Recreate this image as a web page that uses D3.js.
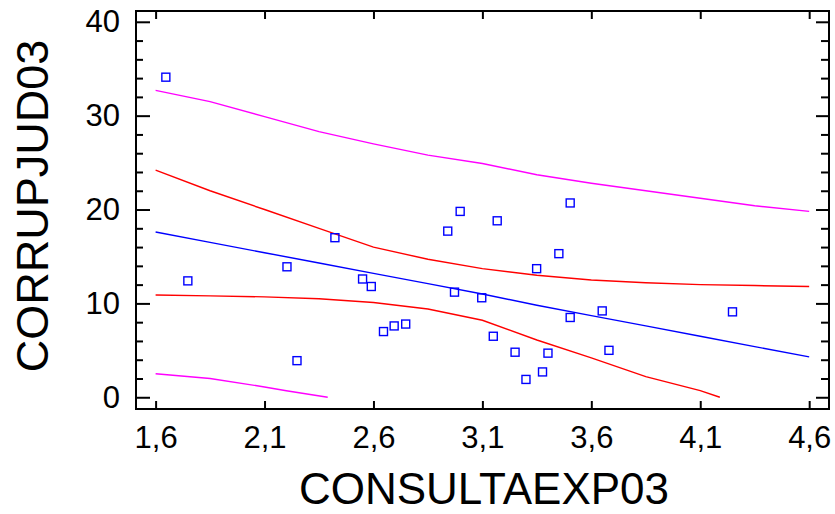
<!DOCTYPE html>
<html>
<head>
<meta charset="utf-8">
<script src="https://cdn.jsdelivr.net/npm/d3@7"></script>
<style>
	body { margin: 0; background: #fff; }
	text { font-family: "Liberation Sans", Arial, sans-serif; fill: #000; }
</style>
</head>
<body>
<script>
// points
const consulta = [1.647, 1.748, 2.203, 2.249, 2.423, 2.550, 2.590, 2.646, 2.695, 2.748, 2.941, 2.972, 2.998, 3.097, 3.150, 3.168, 3.250, 3.300, 3.349, 3.376, 3.401, 3.451, 3.503, 3.503, 3.650, 3.681, 4.248];
const corrup = [34.1, 12.4, 13.9, 3.9, 17.0, 12.6, 11.8, 7.0, 7.6, 7.8, 17.7, 11.2, 19.8, 10.6, 6.5, 18.8, 4.8, 1.9, 13.7, 2.7, 4.7, 15.3, 20.7, 8.5, 9.2, 5.0, 9.1];

// fitted line and limits, sampled along x
const xGrid = [1.6, 1.85, 2.1, 2.35, 2.6, 2.85, 3.1, 3.35, 3.6, 3.85, 4.1, 4.35, 4.6];
const ajuste = [17.6, 16.5, 15.4, 14.3, 13.2, 12.1, 11.0, 9.8, 8.7, 7.6, 6.5, 5.4, 4.3];
const confSup = [24.2, 22.0, 20.0, 18.0, 16.0, 14.7, 13.7, 13.0, 12.5, 12.2, 12.0, 11.9, 11.8];
const predSup = [32.7, 31.5, 29.9, 28.3, 27.0, 25.8, 24.9, 23.7, 22.8, 22.0, 21.2, 20.4, 19.8];
const xConfInf = [1.6, 1.85, 2.1, 2.35, 2.6, 2.85, 3.1, 3.35, 3.6, 3.85, 4.1, 4.19];
const confInf = [10.9, 10.8, 10.7, 10.5, 10.1, 9.4, 8.2, 6.1, 4.2, 2.2, 0.7, 0.0];
const xPredInf = [1.6, 1.85, 2.1, 2.2, 2.39];
const predInf = [2.5, 2.0, 1.1, 0.7, 0.0];

const xTicks = [1.6, 2.1, 2.6, 3.1, 3.6, 4.1, 4.6];
const yTicks = [0, 10, 20, 30, 40];
const yMinor = d3.range(0, 41, 2);

const largeur = 835, hauteur = 514;
const g = 136, d = 829, h = 11, b = 409;

const x = d3.scaleLinear().domain([1.51, 4.691]).range([g, d]);
const y = d3.scaleLinear().domain([-1.25, 41.15]).range([b, h]);

const svg = d3.select("body").append("svg")
	.attr("width", largeur)
	.attr("height", hauteur);

const courbe = (xs, ys, couleur) => {
	svg.append("path")
		.datum(xs.map((v, i) => [v, ys[i]]))
		.attr("fill", "none")
		.attr("stroke", couleur)
		.attr("stroke-width", 1.4)
		.attr("d", d3.line().x((p) => x(p[0])).y((p) => y(p[1])));
};

courbe(xGrid, predSup, "#ff00ff");
courbe(xPredInf, predInf, "#ff00ff");
courbe(xGrid, confSup, "#ff0000");
courbe(xConfInf, confInf, "#ff0000");
courbe(xGrid, ajuste, "#0000ff");

svg.append("g").selectAll("rect")
	.data(consulta)
	.join("rect")
	.attr("x", (v) => x(v) - 4)
	.attr("y", (v, i) => y(corrup[i]) - 4)
	.attr("width", 8)
	.attr("height", 8)
	.attr("fill", "none")
	.attr("stroke", "#0000ff")
	.attr("stroke-width", 1.4);

// axes
const tickFmt = (v) => d3.format(".1f")(v).replace(".", ",");

const axeBas = svg.append("g").attr("transform", `translate(0,${b})`)
	.call(d3.axisBottom(x).tickValues(xTicks).tickSize(-8).tickFormat(tickFmt).tickPadding(17));
svg.append("g").attr("transform", `translate(0,${h})`)
	.call(d3.axisTop(x).tickValues(xTicks).tickSize(-8).tickFormat(""));
svg.append("g").attr("transform", `translate(${g},0)`)
	.call(d3.axisLeft(y).tickValues(yTicks).tickSize(-14).tickFormat(d3.format("d")).tickPadding(16));
svg.append("g").attr("transform", `translate(${g},0)`)
	.call(d3.axisLeft(y).tickValues(yMinor.filter((v) => v % 10)).tickSize(-7).tickFormat(""));
svg.append("g").attr("transform", `translate(${d},0)`)
	.call(d3.axisRight(y).tickValues(yTicks).tickSize(-13).tickFormat(""));
svg.append("g").attr("transform", `translate(${d},0)`)
	.call(d3.axisRight(y).tickValues(yMinor.filter((v) => v % 10)).tickSize(-8).tickFormat(""));

svg.selectAll(".domain").remove();
svg.selectAll(".tick line").attr("stroke", "#000").attr("stroke-width", 2);
svg.selectAll(".tick text")
	.style("font-size", "31px")
	.style("font-family", "'Liberation Sans', Arial, sans-serif")
	.attr("fill", "#000");
axeBas.selectAll(".tick text").attr("dy", "0.71em");

svg.append("rect")
	.attr("x", g)
	.attr("y", h)
	.attr("width", d - g)
	.attr("height", b - h)
	.attr("fill", "none")
	.attr("stroke", "#000")
	.attr("stroke-width", 2);

svg.append("text")
	.attr("x", 484)
	.attr("y", 504)
	.attr("text-anchor", "middle")
	.style("font-size", "44px")
	.text("CONSULTAEXP03");

svg.append("text")
	.attr("transform", "translate(48,206) rotate(-90)")
	.attr("text-anchor", "middle")
	.style("font-size", "45px")
	.text("CORRUPJUD03");
</script>
</body>
</html>
